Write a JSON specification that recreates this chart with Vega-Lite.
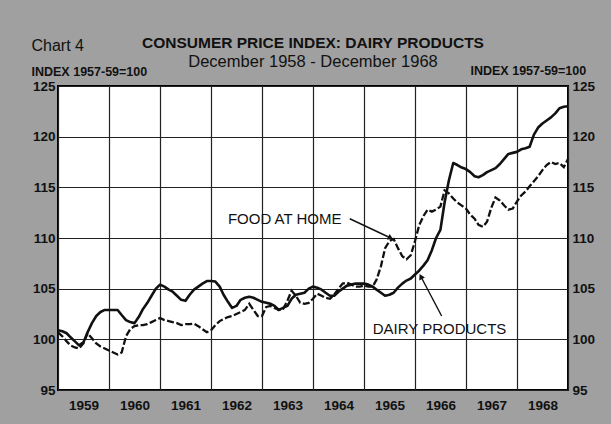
{
  "$schema": "https://vega.github.io/schema/vega-lite/v6.json",
  "width": 510,
  "height": 304,
  "autosize": {"type": "none"},
  "padding": {"left": 58, "top": 86, "right": 43, "bottom": 34},
  "background": "#a0a0a0",
  "config": {
    "font": "Liberation Sans",
    "view": {"fill": "white", "stroke": "black", "strokeWidth": 2},
    "axis": {"labelFont": "Liberation Sans", "labelFontSize": 13.5, "labelFontWeight": "bold", "labelColor": "#111", "titleFont": "Liberation Sans", "titleColor": "#111"}
  },
  "title": {
    "text": "CONSUMER PRICE INDEX: DAIRY PRODUCTS",
    "subtitle": "December 1958 - December 1968",
    "anchor": "middle",
    "offset": 0,
    "dy": 33,
    "font": "Liberation Sans",
    "fontSize": 15.5,
    "fontWeight": "bold",
    "color": "#111",
    "subtitleFont": "Liberation Sans",
    "subtitleFontSize": 16.5,
    "subtitleColor": "#111",
    "subtitlePadding": 2
  },
  "data": {"values": [
    {"m":"1958-12","dairy":100.9,"food":100.7},
    {"m":"1959-01","dairy":100.8,"food":100.3},
    {"m":"1959-02","dairy":100.6,"food":99.8},
    {"m":"1959-03","dairy":100.2,"food":99.4},
    {"m":"1959-04","dairy":99.8,"food":99.2},
    {"m":"1959-05","dairy":99.4,"food":99.1},
    {"m":"1959-06","dairy":99.7,"food":99.6},
    {"m":"1959-07","dairy":100.7,"food":100.6},
    {"m":"1959-08","dairy":101.6,"food":100.1},
    {"m":"1959-09","dairy":102.3,"food":99.6},
    {"m":"1959-10","dairy":102.7,"food":99.3},
    {"m":"1959-11","dairy":102.9,"food":99.1},
    {"m":"1959-12","dairy":102.9,"food":98.9},
    {"m":"1960-01","dairy":102.9,"food":98.7},
    {"m":"1960-02","dairy":102.9,"food":98.5},
    {"m":"1960-03","dairy":102.4,"food":98.7},
    {"m":"1960-04","dairy":101.9,"food":100.3},
    {"m":"1960-05","dairy":101.7,"food":101.0},
    {"m":"1960-06","dairy":101.6,"food":101.3},
    {"m":"1960-07","dairy":102.2,"food":101.4},
    {"m":"1960-08","dairy":103.0,"food":101.4},
    {"m":"1960-09","dairy":103.6,"food":101.5},
    {"m":"1960-10","dairy":104.3,"food":101.7},
    {"m":"1960-11","dairy":105.0,"food":101.9},
    {"m":"1960-12","dairy":105.4,"food":102.1},
    {"m":"1961-01","dairy":105.2,"food":101.9},
    {"m":"1961-02","dairy":104.9,"food":101.8},
    {"m":"1961-03","dairy":104.7,"food":101.7},
    {"m":"1961-04","dairy":104.3,"food":101.6},
    {"m":"1961-05","dairy":103.9,"food":101.4},
    {"m":"1961-06","dairy":103.8,"food":101.5},
    {"m":"1961-07","dairy":104.4,"food":101.5},
    {"m":"1961-08","dairy":104.9,"food":101.55},
    {"m":"1961-09","dairy":105.2,"food":101.3},
    {"m":"1961-10","dairy":105.5,"food":101.0},
    {"m":"1961-11","dairy":105.75,"food":100.7},
    {"m":"1961-12","dairy":105.75,"food":100.9},
    {"m":"1962-01","dairy":105.7,"food":101.4},
    {"m":"1962-02","dairy":105.2,"food":101.8},
    {"m":"1962-03","dairy":104.4,"food":102.0},
    {"m":"1962-04","dairy":103.7,"food":102.2},
    {"m":"1962-05","dairy":103.1,"food":102.3},
    {"m":"1962-06","dairy":103.3,"food":102.5},
    {"m":"1962-07","dairy":103.9,"food":102.7},
    {"m":"1962-08","dairy":104.1,"food":102.9},
    {"m":"1962-09","dairy":104.2,"food":103.5},
    {"m":"1962-10","dairy":104.1,"food":102.9},
    {"m":"1962-11","dairy":103.9,"food":102.3},
    {"m":"1962-12","dairy":103.7,"food":102.3},
    {"m":"1963-01","dairy":103.6,"food":103.2},
    {"m":"1963-02","dairy":103.5,"food":103.3},
    {"m":"1963-03","dairy":103.3,"food":103.1},
    {"m":"1963-04","dairy":102.9,"food":102.9},
    {"m":"1963-05","dairy":103.1,"food":103.0},
    {"m":"1963-06","dairy":103.3,"food":103.8},
    {"m":"1963-07","dairy":104.0,"food":104.8},
    {"m":"1963-08","dairy":104.4,"food":104.3},
    {"m":"1963-09","dairy":104.5,"food":103.6},
    {"m":"1963-10","dairy":104.6,"food":103.5},
    {"m":"1963-11","dairy":105.0,"food":103.6},
    {"m":"1963-12","dairy":105.2,"food":104.0},
    {"m":"1964-01","dairy":105.1,"food":104.5},
    {"m":"1964-02","dairy":104.9,"food":104.3},
    {"m":"1964-03","dairy":104.6,"food":104.1},
    {"m":"1964-04","dairy":104.3,"food":104.0},
    {"m":"1964-05","dairy":104.3,"food":104.4},
    {"m":"1964-06","dairy":104.7,"food":105.0},
    {"m":"1964-07","dairy":105.0,"food":105.5},
    {"m":"1964-08","dairy":105.3,"food":105.6},
    {"m":"1964-09","dairy":105.4,"food":105.4},
    {"m":"1964-10","dairy":105.5,"food":105.2},
    {"m":"1964-11","dairy":105.5,"food":105.2},
    {"m":"1964-12","dairy":105.5,"food":105.3},
    {"m":"1965-01","dairy":105.4,"food":105.2},
    {"m":"1965-02","dairy":105.2,"food":105.2},
    {"m":"1965-03","dairy":104.9,"food":105.9},
    {"m":"1965-04","dairy":104.6,"food":107.2},
    {"m":"1965-05","dairy":104.3,"food":109.0},
    {"m":"1965-06","dairy":104.4,"food":109.7},
    {"m":"1965-07","dairy":104.6,"food":109.9},
    {"m":"1965-08","dairy":105.1,"food":109.0},
    {"m":"1965-09","dairy":105.5,"food":108.2},
    {"m":"1965-10","dairy":105.8,"food":107.9},
    {"m":"1965-11","dairy":106.0,"food":108.3},
    {"m":"1965-12","dairy":106.4,"food":109.7},
    {"m":"1966-01","dairy":106.8,"food":111.3},
    {"m":"1966-02","dairy":107.3,"food":112.2},
    {"m":"1966-03","dairy":107.8,"food":112.8},
    {"m":"1966-04","dairy":108.8,"food":112.6},
    {"m":"1966-05","dairy":110.0,"food":112.8},
    {"m":"1966-06","dairy":110.8,"food":113.1},
    {"m":"1966-07","dairy":113.5,"food":114.7},
    {"m":"1966-08","dairy":115.7,"food":114.4},
    {"m":"1966-09","dairy":117.4,"food":113.9},
    {"m":"1966-10","dairy":117.2,"food":113.5},
    {"m":"1966-11","dairy":116.95,"food":113.2},
    {"m":"1966-12","dairy":116.8,"food":112.9},
    {"m":"1967-01","dairy":116.5,"food":112.3},
    {"m":"1967-02","dairy":116.1,"food":111.9},
    {"m":"1967-03","dairy":116.0,"food":111.3},
    {"m":"1967-04","dairy":116.2,"food":111.1},
    {"m":"1967-05","dairy":116.5,"food":111.6},
    {"m":"1967-06","dairy":116.7,"food":113.0},
    {"m":"1967-07","dairy":116.9,"food":114.0},
    {"m":"1967-08","dairy":117.3,"food":113.7},
    {"m":"1967-09","dairy":117.8,"food":113.2},
    {"m":"1967-10","dairy":118.3,"food":112.8},
    {"m":"1967-11","dairy":118.4,"food":112.9},
    {"m":"1967-12","dairy":118.5,"food":113.6},
    {"m":"1968-01","dairy":118.75,"food":114.2},
    {"m":"1968-02","dairy":118.85,"food":114.6},
    {"m":"1968-03","dairy":119.0,"food":115.1},
    {"m":"1968-04","dairy":120.2,"food":115.6},
    {"m":"1968-05","dairy":120.9,"food":116.1},
    {"m":"1968-06","dairy":121.3,"food":116.7},
    {"m":"1968-07","dairy":121.6,"food":117.2},
    {"m":"1968-08","dairy":121.9,"food":117.5},
    {"m":"1968-09","dairy":122.3,"food":117.3},
    {"m":"1968-10","dairy":122.8,"food":117.4},
    {"m":"1968-11","dairy":122.95,"food":117.0},
    {"m":"1968-12","dairy":123.0,"food":117.8}
  ]},
  "resolve": {"axis": {"x": "independent", "y": "independent"}},
  "layer": [
    {
      "mark": {"type": "line", "color": "#111", "strokeWidth": 2.6, "strokeJoin": "round"},
      "encoding": {
        "x": {"field": "m", "type": "temporal",
          "scale": {"type": "utc", "domain": [{"year": 1958, "month": 12, "date": 1, "utc": true}, {"year": 1968, "month": 12, "date": 1, "utc": true}]},
          "axis": {"orient": "bottom", "title": null, "grid": true, "gridColor": "#222", "gridWidth": 1.2, "gridOpacity": 1,
            "ticks": false, "domain": false, "labelPadding": 8, "labelOffset": 25.5, "labelAlign": "center", "labelFlush": false, "labelOverlap": false,
            "values": [
              {"year": 1958, "month": 12, "date": 1, "utc": true},
              {"year": 1959, "month": 12, "date": 1, "utc": true},
              {"year": 1960, "month": 12, "date": 1, "utc": true},
              {"year": 1961, "month": 12, "date": 1, "utc": true},
              {"year": 1962, "month": 12, "date": 1, "utc": true},
              {"year": 1963, "month": 12, "date": 1, "utc": true},
              {"year": 1964, "month": 12, "date": 1, "utc": true},
              {"year": 1965, "month": 12, "date": 1, "utc": true},
              {"year": 1966, "month": 12, "date": 1, "utc": true},
              {"year": 1967, "month": 12, "date": 1, "utc": true},
              {"year": 1968, "month": 12, "date": 1, "utc": true}
            ],
            "labelExpr": "utcyear(datum.value) < 1968 ? '' + (utcyear(datum.value) + 1) : ''"}},
        "y": {"field": "dairy", "type": "quantitative",
          "scale": {"domain": [95, 125], "nice": false, "zero": false},
          "axis": {"orient": "left", "values": [95, 100, 105, 110, 115, 120, 125], "grid": true, "gridColor": "#222", "gridWidth": 1.2, "gridOpacity": 1,
            "ticks": false, "domain": false, "labelPadding": 3, "labelFlush": false, "labelOverlap": false,
            "title": "INDEX 1957-59=100", "titleAngle": 0, "titleAlign": "left", "titleBaseline": "middle", "titleX": -27, "titleY": -15, "titleFontSize": 12.5, "titleFontWeight": "bold"}}
      }
    },
    {
      "mark": {"type": "line", "color": "#111", "strokeWidth": 2.3, "strokeDash": [7, 2.5]},
      "encoding": {
        "x": {"field": "m", "type": "temporal",
          "axis": {"orient": "top", "title": "Chart 4", "labels": false, "ticks": false, "domain": false, "grid": false,
            "titleAnchor": "start", "titleAlign": "left", "titleBaseline": "middle", "titleX": -27, "titleY": -41, "titleFontSize": 16, "titleFontWeight": "normal"}},
        "y": {"field": "food", "type": "quantitative",
          "axis": {"orient": "right", "values": [95, 100, 105, 110, 115, 120, 125], "grid": false,
            "ticks": false, "domain": false, "labelPadding": 4, "labelFlush": false, "labelOverlap": false,
            "title": "INDEX 1957-59=100", "titleAngle": 0, "titleAlign": "left", "titleBaseline": "middle", "titleX": -98, "titleY": -16, "titleFontSize": 12.5, "titleFontWeight": "bold"}}
      }
    },
    {
      "data": {"values": [{}]},
      "mark": {"type": "text", "align": "left", "baseline": "middle", "fontSize": 15, "color": "#111", "font": "Liberation Sans"},
      "encoding": {
        "x": {"datum": {"year": 1962, "month": 4, "date": 1, "utc": true}, "type": "temporal", "axis": null},
        "y": {"datum": 111.9, "type": "quantitative", "axis": null},
        "text": {"value": "FOOD AT HOME"}
      }
    },
    {
      "data": {"values": [{}]},
      "mark": {"type": "text", "align": "left", "baseline": "middle", "fontSize": 15, "color": "#111", "font": "Liberation Sans"},
      "encoding": {
        "x": {"datum": {"year": 1965, "month": 2, "date": 1, "utc": true}, "type": "temporal", "axis": null},
        "y": {"datum": 101.05, "type": "quantitative", "axis": null},
        "text": {"value": "DAIRY PRODUCTS"}
      }
    },
    {
      "data": {"values": [{}]},
      "mark": {"type": "rule", "color": "#111", "strokeWidth": 1.4},
      "encoding": {
        "x": {"datum": {"year": 1964, "month": 8, "date": 21, "utc": true}, "type": "temporal", "axis": null},
        "x2": {"datum": {"year": 1965, "month": 6, "date": 10, "utc": true}},
        "y": {"datum": 111.9, "type": "quantitative", "axis": null},
        "y2": {"datum": 110.0}
      }
    },
    {
      "data": {"values": [{}]},
      "mark": {"type": "point", "shape": "triangle-right", "filled": true, "color": "#111", "size": 40, "angle": 26.6, "opacity": 1},
      "encoding": {
        "x": {"datum": {"year": 1965, "month": 6, "date": 10, "utc": true}, "type": "temporal", "axis": null},
        "y": {"datum": 110.0, "type": "quantitative", "axis": null}
      }
    },
    {
      "data": {"values": [{}]},
      "mark": {"type": "rule", "color": "#111", "strokeWidth": 1.4},
      "encoding": {
        "x": {"datum": {"year": 1966, "month": 6, "date": 10, "utc": true}, "type": "temporal", "axis": null},
        "x2": {"datum": {"year": 1966, "month": 1, "date": 12, "utc": true}},
        "y": {"datum": 102.3, "type": "quantitative", "axis": null},
        "y2": {"datum": 106.2}
      }
    },
    {
      "data": {"values": [{}]},
      "mark": {"type": "point", "shape": "triangle-up", "filled": true, "color": "#111", "size": 40, "angle": 333, "opacity": 1},
      "encoding": {
        "x": {"datum": {"year": 1966, "month": 1, "date": 12, "utc": true}, "type": "temporal", "axis": null},
        "y": {"datum": 106.2, "type": "quantitative", "axis": null}
      }
    }
  ]
}
